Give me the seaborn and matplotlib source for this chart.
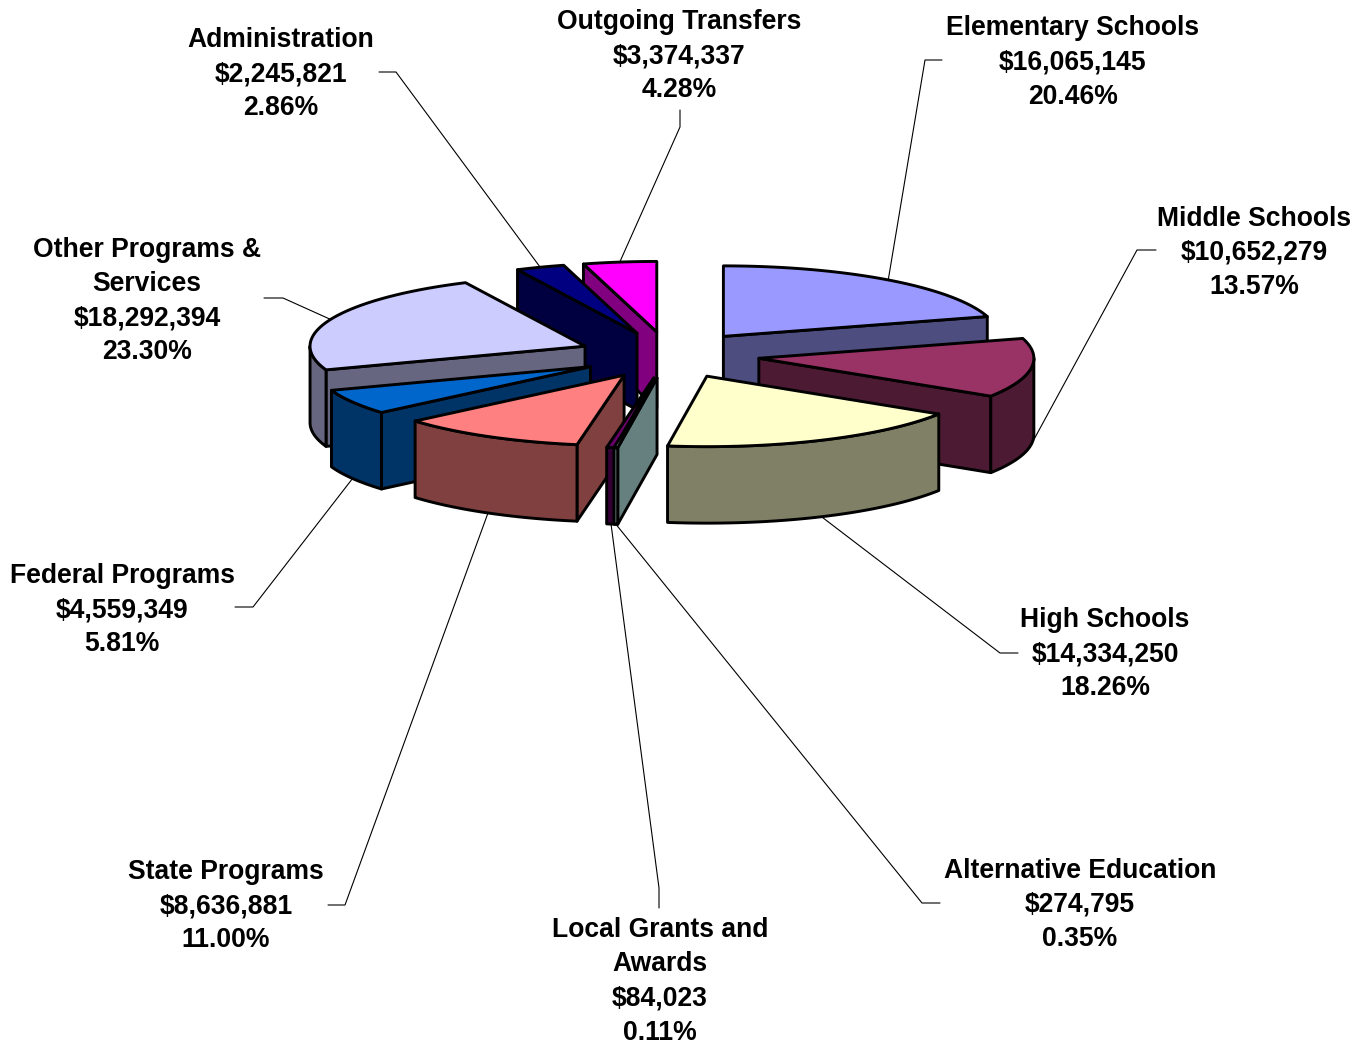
"""School budget expenditures - exploded 3D pie drawn from the amounts"""

import numpy as np
import matplotlib
matplotlib.use('Agg')
import matplotlib.pyplot as plt
from matplotlib.patches import Polygon
import seaborn as sns

categories = ['Elementary Schools', 'Middle Schools', 'High Schools', 'Alternative Education',
              'Local Grants and\nAwards', 'State Programs', 'Federal Programs',
              'Other Programs &\nServices', 'Administration', 'Outgoing Transfers']
amounts = [16065145, 10652279, 14334250, 274795, 84023, 8636881, 4559349, 18292394, 2245821, 3374337]
percents = [20.46, 13.57, 18.26, 0.35, 0.11, 11.00, 5.81, 23.30, 2.86, 4.28]
top_colors = ['#9999FF', '#993366', '#FFFFCC', '#CCFFFF', '#660066',
              '#FF8080', '#0066CC', '#CCCCFF', '#000080', '#FF00FF']

# label centres and leader elbows, in pixels
label_pos = [(1073, 60.5), (1254, 251), (1105, 652), (1080, 903), (660, 979.5),
             (226, 904), (122, 608), (147, 299), (281, 72), (679, 54)]
leader_start = [(942, 60), (1156, 250), (1018, 653), (940, 903), (659, 908),
                (328, 905), (235, 607), (264, 298), (379, 72), (680, 110)]
leader_elbow = [(925, 60), (1137, 250), (1000, 653), (922, 903), (659, 888),
                (345, 905), (253, 607), (283, 298), (396, 72), (680, 127)]

# pie geometry
CX, CY = 669, 355
RX, RY = 275, 70.5
EXPLODE = 0.33
DEPTH = 76.5
LINE_STEP = 34.3
# painter's order, back slices first
draw_order = [9, 8, 7, 6, 5, 4, 3, 0, 1, 2]
ALT, LOCAL = 3, 4


def rim(apex, theta):
    return np.column_stack([apex[0] + RX * np.sin(theta), apex[1] - RY * np.cos(theta)])


def draw_poly(ax, pts, color, z):
    ax.add_patch(Polygon(pts, closed=True, facecolor=color, edgecolor='black',
                         linewidth=2.1, joinstyle='round', zorder=z))


def draw_slice(ax, apex, t1, t2, top, side, z):
    drop = np.array([0, DEPTH])
    apex_pt = np.array(apex, dtype=float)
    # radial faces that turn towards the viewer
    if np.sin(t1) < 0:
        p = rim(apex, np.array([t1]))[0]
        draw_poly(ax, [apex_pt, p, p + drop, apex_pt + drop], side, z)
    if np.sin(t2) > 0:
        p = rim(apex, np.array([t2]))[0]
        draw_poly(ax, [apex_pt, p, p + drop, apex_pt + drop], side, z)
    # outer wall, front half only
    lo, hi = max(t1, np.pi / 2), min(t2, 3 * np.pi / 2)
    if hi > lo:
        arc = rim(apex, np.linspace(lo, hi, 80))
        draw_poly(ax, np.vstack([arc, arc[::-1] + drop]), side, z)
    # top surface
    arc = rim(apex, np.linspace(t1, t2, 120))
    draw_poly(ax, np.vstack([apex_pt, arc]), top, z)


sns.set_theme(style='white')
plt.rcParams['font.family'] = ['Liberation Sans', 'DejaVu Sans']

fig = plt.figure(figsize=(13.64, 10.45), dpi=100)
ax = fig.add_axes([0, 0, 1, 1])
ax.set_xlim(0, 1364)
ax.set_ylim(1045, 0)
ax.axis('off')

values = np.array(amounts, dtype=float)
edges = np.concatenate([[0], np.cumsum(values)]) / values.sum() * 2 * np.pi
palette = sns.color_palette(top_colors)

# the two hairline slices are too thin to show, so their drawn sweep is adjusted
starts = edges[:-1].copy()
ends = edges[1:].copy()
ends[ALT] = starts[ALT] + np.radians(0.8)
starts[LOCAL] = starts[ALT] - np.radians(0.2)

apexes = []
anchors = []
for i in range(len(values)):
    mid = (edges[i] + edges[i + 1]) / 2
    apex = (CX + EXPLODE * RX * np.sin(mid), CY - EXPLODE * RY * np.cos(mid))
    if i == ALT:
        apex = (apex[0] + 2, apex[1])
    apexes.append(apex)
    draw_mid = (starts[i] + ends[i]) / 2
    a = rim(apex, np.array([draw_mid]))[0]
    # front slices get the leader on the bottom of the wall
    if np.cos(draw_mid) < 0:
        a = a + [0, DEPTH]
    anchors.append(a)

for z, i in enumerate(draw_order):
    top = palette[i]
    side = tuple(c * 0.5 for c in top)
    draw_slice(ax, apexes[i], starts[i], ends[i], top, side, z + 2)

for i in range(len(values)):
    xs = [leader_start[i][0], leader_elbow[i][0], anchors[i][0]]
    ys = [leader_start[i][1], leader_elbow[i][1], anchors[i][1]]
    ax.plot(xs, ys, color='black', linewidth=0.8, zorder=1)
    # one text per line, matplotlib's own line spacing comes out uneven here
    lines = f'{categories[i]}\n${amounts[i]:,}\n{percents[i]:.2f}%'.split('\n')
    for j, line in enumerate(lines):
        y = label_pos[i][1] + (j - (len(lines) - 1) / 2) * LINE_STEP + 9
        ax.text(label_pos[i][0], y, line, ha='center', va='baseline',
                fontsize=19.1, fontweight='bold', color='black', zorder=20)

fig.savefig('out.png', dpi=100)
